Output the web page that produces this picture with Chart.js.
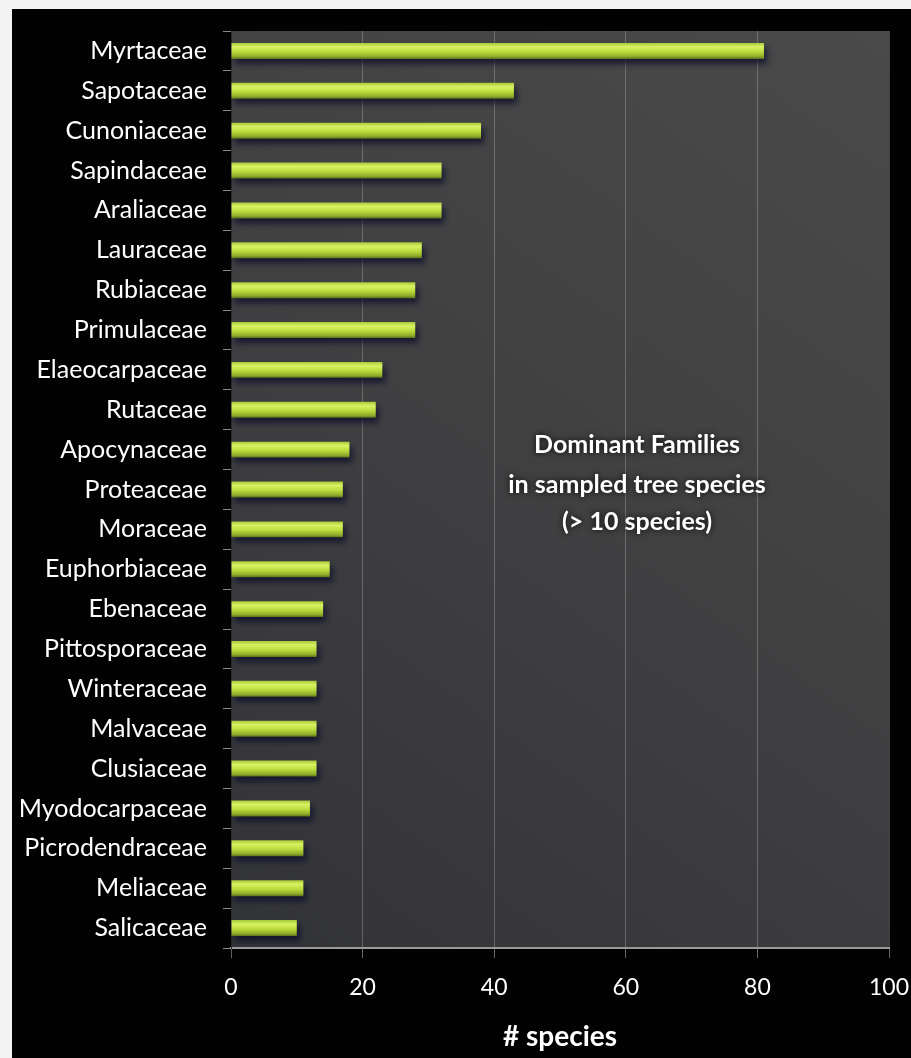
<!DOCTYPE html>
<html>
<head>
<meta charset="utf-8">
<script src="https://cdn.jsdelivr.net/npm/chart.js@4.4.0/dist/chart.umd.min.js"></script>
<style>
  html, body { margin: 0; padding: 0; background: #f4f4f4; }
  #wrap { width: 911px; height: 1058px; position: relative; }
</style>
</head>
<body>
<div id="wrap"><canvas id="familyChart"></canvas></div>
<script>
var ctx = document.getElementById("familyChart").getContext("2d");

const families = [
  "Myrtaceae", "Sapotaceae", "Cunoniaceae", "Sapindaceae", "Araliaceae",
  "Lauraceae", "Rubiaceae", "Primulaceae", "Elaeocarpaceae", "Rutaceae",
  "Apocynaceae", "Proteaceae", "Moraceae", "Euphorbiaceae", "Ebenaceae",
  "Pittosporaceae", "Winteraceae", "Malvaceae", "Clusiaceae", "Myodocarpaceae",
  "Picrodendraceae", "Meliaceae", "Salicaceae"
];
const speciesCount = [
  81, 43, 38, 32, 32,
  29, 28, 28, 23, 22,
  18, 17, 17, 15, 14,
  13, 13, 13, 13, 12,
  11, 11, 10
];
const noteLines = ["Dominant Families", "in sampled tree species", "(> 10 species)"];

const FONT = "Lato, 'Open Sans', sans-serif";

// black panel behind everything + grey plot area
const panelBg = {
  id: 'panelBg',
  beforeDraw(chart) {
    const c = chart.ctx, a = chart.chartArea;
    c.save();
    c.fillStyle = '#f4f4f4';
    c.fillRect(0, 0, chart.width, chart.height);
    c.fillStyle = '#020202';
    c.fillRect(12, 9, chart.width - 12, chart.height - 9);
    const g = c.createLinearGradient(a.left, a.bottom, a.right, a.top);
    g.addColorStop(0, '#323337');
    g.addColorStop(0.45, '#3f3f41');
    g.addColorStop(1, '#4a4a4a');
    c.fillStyle = g;
    c.fillRect(a.left, a.top, a.right - a.left, a.bottom - a.top);
    c.restore();
  }
};

// soft dark shadow under the bars
const barShadow = {
  id: 'barShadow',
  beforeDatasetsDraw(chart) {
    const c = chart.ctx;
    c.save();
    c.shadowColor = 'rgba(10, 10, 40, 0.75)';
    c.shadowBlur = 6;
    c.shadowOffsetX = 3;
    c.shadowOffsetY = 5;
  },
  afterDatasetsDraw(chart) {
    chart.ctx.restore();
  }
};

// caption block in the middle of the plot
const caption = {
  id: 'caption',
  afterDraw(chart) {
    const c = chart.ctx;
    c.save();
    c.font = "bold 25px " + FONT;
    c.textAlign = 'center';
    c.textBaseline = 'middle';
    c.fillStyle = '#ffffff';
    c.shadowColor = 'rgba(0,0,0,0.9)';
    c.shadowBlur = 6;
    const ys = [445, 485, 522];
    noteLines.forEach((t, i) => c.fillText(t, 637, ys[i]));
    c.restore();
  }
};

function barFill(context) {
  const chart = context.chart;
  const y = chart.scales && chart.scales.y;
  if (!y || context.dataIndex === undefined) return '#b5d53a';
  const cy = y.getPixelForValue(context.dataIndex);
  if (!isFinite(cy)) return '#b5d53a';
  const g = chart.ctx.createLinearGradient(0, cy - 8, 0, cy + 8);
  g.addColorStop(0, '#a6c83a');
  g.addColorStop(0.25, '#d8f262');
  g.addColorStop(0.55, '#bcdc3e');
  g.addColorStop(0.85, '#8eac2a');
  g.addColorStop(1, '#5a701c');
  return g;
}

var config = {
  type: 'bar',
  data: {
    labels: families,
    datasets: [{
      label: "# species",
      data: speciesCount,
      backgroundColor: barFill,
      borderWidth: 0,
      barPercentage: 0.4,
      categoryPercentage: 1.0
    }]
  },
  options: {
    indexAxis: 'y',
    responsive: true,
    maintainAspectRatio: false,
    animation: false,
    layout: { padding: { left: 12, top: 24, right: 22, bottom: 0 } },
    scales: {
      x: {
        min: 0,
        max: 100,
        ticks: { stepSize: 20, color: '#ffffff', font: { family: FONT, size: 23 }, padding: 16 },
        grid: {
          color: 'rgba(190,190,190,0.35)',
          tickColor: 'rgba(190,190,190,0.5)',
          tickLength: 10,
          lineWidth: 1
        },
        border: { color: '#9a9a9a', width: 2 },
        title: {
          display: true,
          text: '# species',
          color: '#ffffff',
          font: { family: FONT, size: 28, weight: 'bold' },
          padding: { top: 4, bottom: 4 }
        },
        afterFit(scale) {
          scale.height = 110;
          // let the "100" label hang into the right margin
          scale.paddingLeft = 0;
          scale.paddingRight = 0;
        }
      },
      y: {
        ticks: { color: '#ffffff', font: { family: FONT, size: 25 }, padding: 16 },
        grid: {
          offset: true,
          drawOnChartArea: false,
          tickColor: '#8a8a8a',
          tickLength: 8
        },
        border: { color: '#2a2a2a', width: 1 },
        afterFit(scale) { scale.width = 219; }
      }
    },
    plugins: {
      legend: { display: false },
      tooltip: { enabled: false }
    }
  },
  plugins: [panelBg, barShadow, caption]
};

var familyChart = new Chart(ctx, config);
</script>
</body>
</html>
